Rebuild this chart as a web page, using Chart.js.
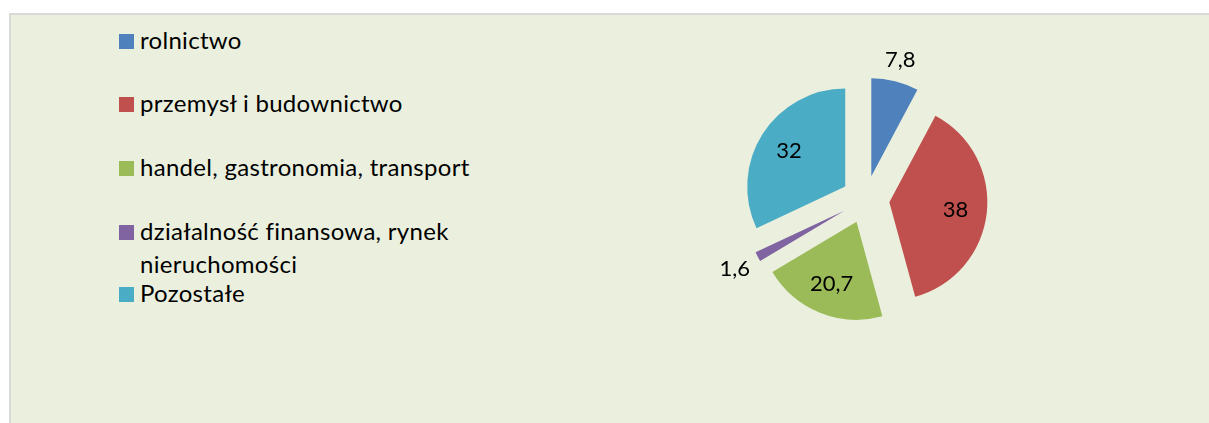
<!DOCTYPE html>
<html lang="pl">
<head>
<meta charset="utf-8">
<script src="https://cdn.jsdelivr.net/npm/chart.js@4.4.1/dist/chart.umd.min.js"></script>
<style>
  html, body { margin: 0; padding: 0; background: #ffffff; }
  body { width: 1209px; height: 423px; position: relative; overflow: hidden; font-family: Lato, "Liberation Sans", sans-serif; }
  #frame { position: absolute; left: 9px; top: 13px; width: 1220px; height: 430px; background: #EBF0DE; border: 2px solid #D9D9D9; box-sizing: border-box; }
  #legend { position: absolute; left: 0; top: 0; }
  .item { position: absolute; left: 119px; display: flex; align-items: flex-start; }
  .mark { width: 15px; height: 15px; margin-top: 11px; margin-right: 6px; flex: none; }
  .txt { width: 352px; font-size: 24px; letter-spacing: 0.3px; line-height: 33px; color: #000; }
  #pieBox { position: absolute; left: 665px; top: 0; width: 401px; height: 399px; }
</style>
</head>
<body>
<div id="frame"></div>
<div id="legend"></div>
<div id="pieBox"><canvas id="c"></canvas></div>
<script>
// ---- data ----
const categories = ['rolnictwo', 'przemysł i budownictwo', 'handel, gastronomia, transport', 'działalność finansowa, rynek nieruchomości', 'Pozostałe'];
const values = [7.8, 38, 20.7, 1.6, 32];
const valueLabels = ['7,8', '38', '20,7', '1,6', '32'];

// ---- style ----
const colors = ['#4F81BD', '#C0504D', '#9BBB59', '#8064A2', '#4BACC6'];
const legendTops = [23, 86, 150, 214, 276];
const pieRadius = 98;
const explode = 24;
const labelFont = '22px Lato, "Liberation Sans", sans-serif';

// HTML legend
const lg = document.getElementById('legend');
categories.forEach((c, i) => {
  const it = document.createElement('div');
  it.className = 'item';
  it.style.top = legendTops[i] + 'px';
  const m = document.createElement('div');
  m.className = 'mark';
  m.style.background = colors[i];
  const t = document.createElement('div');
  t.className = 'txt';
  t.textContent = c;
  it.appendChild(m); it.appendChild(t);
  lg.appendChild(it);
});

// explode slices: shift each arc along its mid angle
const explodePlugin = {
  id: 'explode',
  afterDatasetUpdate(chart, args) {
    args.meta.data.forEach(arc => {
      const mid = (arc.startAngle + arc.endAngle) / 2;
      arc.x += Math.cos(mid) * explode;
      arc.y += Math.sin(mid) * explode;
    });
  }
};

// data labels
const labelPlugin = {
  id: 'pieLabels',
  afterDatasetsDraw(chart) {
    const ctx = chart.ctx;
    const meta = chart.getDatasetMeta(0);
    ctx.save();
    ctx.font = labelFont;
    ctx.fillStyle = '#000';
    ctx.textAlign = 'center';
    ctx.textBaseline = 'middle';
    meta.data.forEach((arc, i) => {
      const mid = (arc.startAngle + arc.endAngle) / 2;
      const dx = Math.cos(mid), dy = Math.sin(mid);
      const txt = valueLabels[i];
      let d;
      if (values[i] < 10) {
        const w = ctx.measureText(txt).width;
        const h = 20;
        d = arc.outerRadius + 8 + Math.abs(dx) * w / 2 + Math.abs(dy) * h / 2;
      } else {
        d = arc.outerRadius * 0.68;
      }
      ctx.fillText(txt, arc.x + dx * d, arc.y + dy * d);
    });
    ctx.restore();
  }
};

new Chart(document.getElementById('c'), {
  type: 'pie',
  data: {
    labels: categories,
    datasets: [{
      data: values,
      backgroundColor: colors,
      borderWidth: 0,
      hoverOffset: 0
    }]
  },
  options: {
    responsive: true,
    maintainAspectRatio: false,
    animation: false,
    radius: pieRadius,
    events: [],
    layout: { padding: 0 },
    plugins: {
      legend: { display: false },
      tooltip: { enabled: false }
    }
  },
  plugins: [explodePlugin, labelPlugin]
});
</script>
</body>
</html>
